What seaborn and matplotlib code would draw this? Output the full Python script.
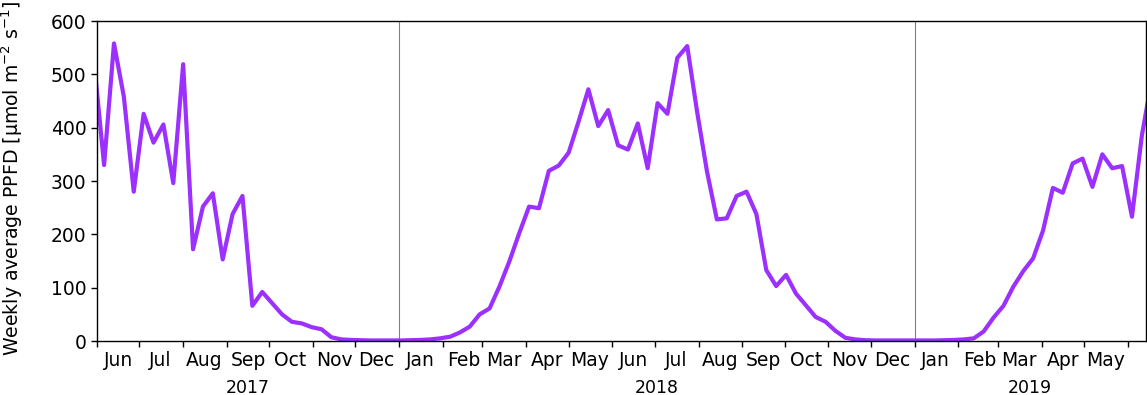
import matplotlib
matplotlib.use("Agg")
import matplotlib.pyplot as plt
import matplotlib.dates as mdates
import matplotlib.ticker as mticker
import matplotlib.transforms as mtransforms
import seaborn as sns
import pandas as pd

# Weekly average PPFD, one value per week (Tuesdays) from end of May 2017
start_date = "2017-05-30"
ppfd = [
    520, 330, 558, 458, 280, 426, 372, 406, 296, 519,
    172, 252, 277, 153, 238, 272, 66, 92, 71, 50,
    36, 33, 26, 22, 7, 3, 2, 1.5, 1, 1,
    1, 1, 1.5, 2, 3, 5, 8, 16, 27, 50,
    61, 102, 149, 202, 252, 249, 319, 329, 353, 411,
    472, 403, 433, 367, 359, 408, 324, 446, 426, 531,
    553, 430, 318, 228, 230, 272, 280, 238, 133, 103,
    124, 89, 67, 45, 36, 19, 6, 3, 1.5, 1,
    1, 1, 1, 1, 1, 1, 1.5, 2, 3, 5,
    18, 44, 66, 102, 131, 155, 207, 287, 278, 333,
    342, 289, 350, 324, 328, 233, 385, 490,
]
years = [2017, 2018, 2019]
x_start = pd.Timestamp("2017-06-01")
x_end = pd.Timestamp("2019-06-14")

df = pd.DataFrame({
    "date": pd.date_range(start_date, periods=len(ppfd), freq="7D"),
    "ppfd": ppfd,
})

sns.set_style("ticks")
fig = plt.figure(figsize=(11.47, 3.95), dpi=100)
ax = fig.add_axes([0.0846, 0.1367, 0.9146, 0.8101])

sns.lineplot(data=df, x="date", y="ppfd", color="#9b30ff", linewidth=3, ax=ax)

# year boundaries
for yr in years[1:]:
    ax.axvline(pd.Timestamp(f"{yr}-01-01"), color="grey", linewidth=0.8, zorder=1)

ax.set_xlim(x_start, x_end)
ax.set_ylim(0, 600)
ax.set_yticks(range(0, 601, 100))

# tick marks at month starts, month names in the middle of each month
ax.xaxis.set_major_locator(mdates.MonthLocator())
ax.xaxis.set_major_formatter(mticker.NullFormatter())
ax.xaxis.set_minor_locator(mdates.MonthLocator(bymonthday=16))
ax.xaxis.set_minor_formatter(mdates.DateFormatter("%b"))
ax.tick_params(axis="x", which="minor", length=0, labelsize=13.5, pad=7.5, labelcolor="black")
ax.tick_params(axis="x", which="major", length=4, width=1, color="black")
ax.tick_params(axis="y", labelsize=13.5, length=4, width=1, color="black", labelcolor="black")

# year labels under the visible part of each year
trans = mtransforms.blended_transform_factory(ax.transData, ax.transAxes)
for yr in years:
    lo = max(pd.Timestamp(f"{yr}-01-01"), x_start)
    hi = min(pd.Timestamp(f"{yr + 1}-01-01"), x_end)
    mid = lo + (hi - lo) / 2
    ax.text(mid, -0.118, str(yr), transform=trans, ha="center", va="top",
            fontsize=12.5, color="black")

ax.set_xlabel("")
ax.set_ylabel(r"Weekly average PPFD [μmol m$^{-2}$ s$^{-1}$]", fontsize=13.6, color="black")
ax.yaxis.set_label_coords(-0.069, 0.51)

for s in ax.spines.values():
    s.set_color("black")
    s.set_linewidth(1)

fig.savefig("out.png", dpi=100)
